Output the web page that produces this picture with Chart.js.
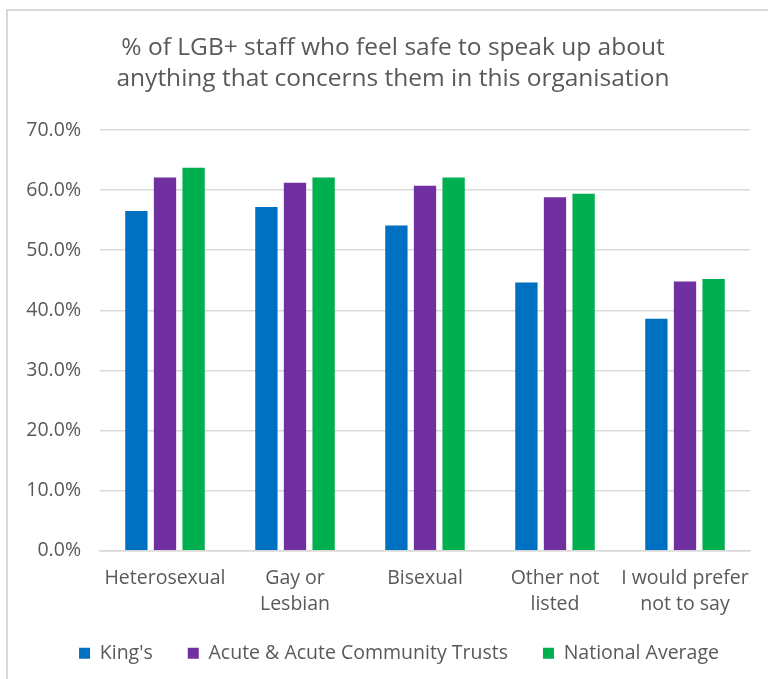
<!DOCTYPE html>
<html>
<head>
<meta charset="utf-8">
<script src="https://cdn.jsdelivr.net/npm/chart.js@4.4.1/dist/chart.umd.min.js"></script>
<style>
    html, body { margin: 0; padding: 0; background: #fff; overflow: hidden; }
    #wrap { position: relative; width: 768px; height: 679px; }
    #frame {
        position: absolute; left: 6px; top: 9px; width: 800px; height: 720px;
        border: 2px solid #d9d9d9; box-sizing: border-box;
    }
    canvas { position: absolute; left: 0; top: 0; }
</style>
</head>
<body>
<div id="wrap">
    <div id="frame"></div>
    <canvas id="chart" width="768" height="679"></canvas>
</div>
<script>
// Staff survey: share of LGB+ staff who feel safe to speak up, by sexual orientation
const categories = [
    'Heterosexual',
    ['Gay or', 'Lesbian'],
    'Bisexual',
    ['Other not', 'listed'],
    ['I would prefer', 'not to say']
];
const kingsValues = [56.5, 57.2, 54.1, 44.6, 38.6];
const acuteValues = [62.1, 61.2, 60.7, 58.8, 44.8];
const nationalValues = [63.7, 62.1, 62.1, 59.4, 45.2];
const yTicks = [0, 10, 20, 30, 40, 50, 60, 70];

const textColor = '#595959';
const gridColor = '#d9d9d9';
const fontFamily = "'Open Sans', 'Noto Sans', sans-serif";

// legend items need wide horizontal spacing but not that much room above them,
// so the legend reserves less height and is drawn higher up.
// Title and legend are centred over the frame rather than the whole canvas.
const LEGEND_TRIM = 24;
const LEGEND_SHIFT = 24;
const TITLE_SHIFT = 36;
const boxTweaks = {
    id: 'boxTweaks',
    beforeLayout(chart) {
        const legend = chart.legend;
        if (legend && !legend._trimmed) {
            const fit = legend.fit;
            legend.fit = function() {
                fit.call(this);
                this.height -= LEGEND_TRIM;
            };
            legend._trimmed = true;
        }
    },
    afterLayout(chart) {
        if (chart.legend) {
            chart.legend.top -= LEGEND_TRIM;
            chart.legend.left += LEGEND_SHIFT;
            chart.legend.right += LEGEND_SHIFT;
        }
        if (chart.titleBlock) {
            chart.titleBlock.left += TITLE_SHIFT;
        }
    }
};

const ctx = document.getElementById('chart').getContext('2d');

new Chart(ctx, {
    type: 'bar',
    data: {
        labels: categories,
        datasets: [
            { label: "King's", data: kingsValues, backgroundColor: '#0070C0' },
            { label: 'Acute & Acute Community Trusts', data: acuteValues, backgroundColor: '#7030A0' },
            { label: 'National Average', data: nationalValues, backgroundColor: '#00B050' }
        ]
    },
    plugins: [boxTweaks],
    options: {
        responsive: false,
        animation: false,
        layout: {
            padding: { left: 0, right: 18, top: 24, bottom: 6 }
        },
        datasets: {
            bar: {
                categoryPercentage: 0.66,
                barPercentage: 0.78
            }
        },
        scales: {
            x: {
                grid: { display: false, drawTicks: false },
                border: { color: gridColor, width: 1.5 },
                ticks: {
                    color: textColor,
                    font: { family: fontFamily, size: 19.5, lineHeight: 1.33 },
                    maxRotation: 0,
                    autoSkip: false,
                    padding: 15
                }
            },
            y: {
                min: 0,
                max: 70,
                afterFit: function(scale) {
                    scale.width = 100;
                },
                afterBuildTicks: function(scale) {
                    scale.ticks = yTicks.map(v => ({ value: v }));
                },
                grid: {
                    color: gridColor,
                    lineWidth: 1.5,
                    drawTicks: false
                },
                border: { display: false },
                ticks: {
                    color: textColor,
                    font: { family: fontFamily, size: 19.5 },
                    padding: 19,
                    callback: function(value) {
                        return value.toFixed(1) + '%';
                    }
                }
            }
        },
        plugins: {
            title: {
                display: true,
                text: [
                    '% of LGB+ staff who feel safe to speak up about',
                    'anything that concerns them in this organisation'
                ],
                color: textColor,
                font: { family: fontFamily, size: 24.5, weight: 'normal', lineHeight: 1.265 },
                padding: { top: 8.5, bottom: 35.5 }
            },
            legend: {
                position: 'bottom',
                labels: {
                    color: textColor,
                    font: { family: fontFamily, size: 19.5 },
                    boxWidth: 11,
                    boxHeight: 11,
                    padding: 35
                }
            },
            tooltip: { enabled: false }
        }
    }
});
</script>
</body>
</html>
